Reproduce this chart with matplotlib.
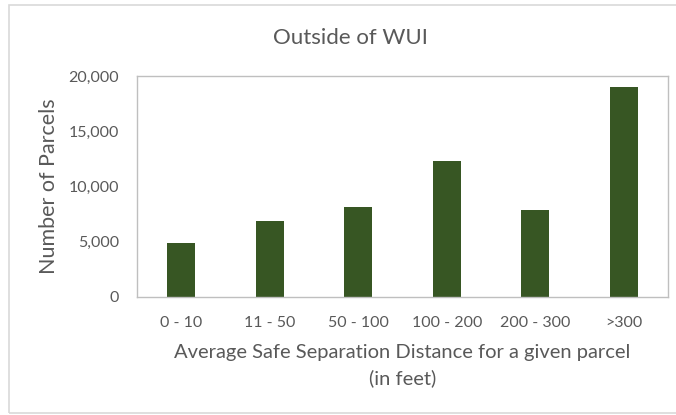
import matplotlib
matplotlib.use('Agg')
import matplotlib.pyplot as plt
from matplotlib.ticker import FuncFormatter
from matplotlib.patches import Rectangle

categories = ['0 - 10', '11 - 50', '50 - 100', '100 - 200', '200 - 300', '>300']
parcels = [4830, 6850, 8120, 12280, 7850, 19000]
yticks = [0, 5000, 10000, 15000, 20000]

plt.rcParams['font.family'] = ['Lato', 'DejaVu Sans']

fig = plt.figure(figsize=(6.76, 4.15), dpi=100)
ax = fig.add_axes([137 / 676, 1 - 296.7 / 415, (668 - 137) / 676, (296.7 - 76) / 415])

# outer chart border
fig.patches.append(Rectangle((9 / 676, 2 / 415), 0.99, 1 - 7 / 415, transform=fig.transFigure,
                             fill=False, edgecolor='#d9d9d9', linewidth=1.2))

x = range(len(categories))
ax.bar(x, parcels, width=0.32, color='#375623')

ax.set_xlim(-0.5, len(categories) - 0.5)
ax.set_ylim(0, 20000)
ax.set_yticks(yticks)
ax.yaxis.set_major_formatter(FuncFormatter(lambda v, p: f'{int(v):,}'))
ax.set_xticks(list(x))
ax.set_xticklabels(categories)
ax.tick_params(length=0, labelsize=11.5, colors='#595959')
ax.tick_params(axis='x', pad=14)
ax.tick_params(axis='y', pad=13)

for s in ax.spines.values():
    s.set_color('#bfbfbf')
    s.set_linewidth(1)

ax.set_ylabel('Number of Parcels', fontsize=15.5, color='#595959', labelpad=7)
ax.set_xlabel('Average Safe Separation Distance for a given parcel\n(in feet)',
              fontsize=14.5, color='#595959', labelpad=10, linespacing=1.55)
fig.text(350 / 676, 1 - 38 / 415, 'Outside of WUI', fontsize=16, color='#595959',
         ha='center', va='center')

plt.savefig('out.png', dpi=100)
